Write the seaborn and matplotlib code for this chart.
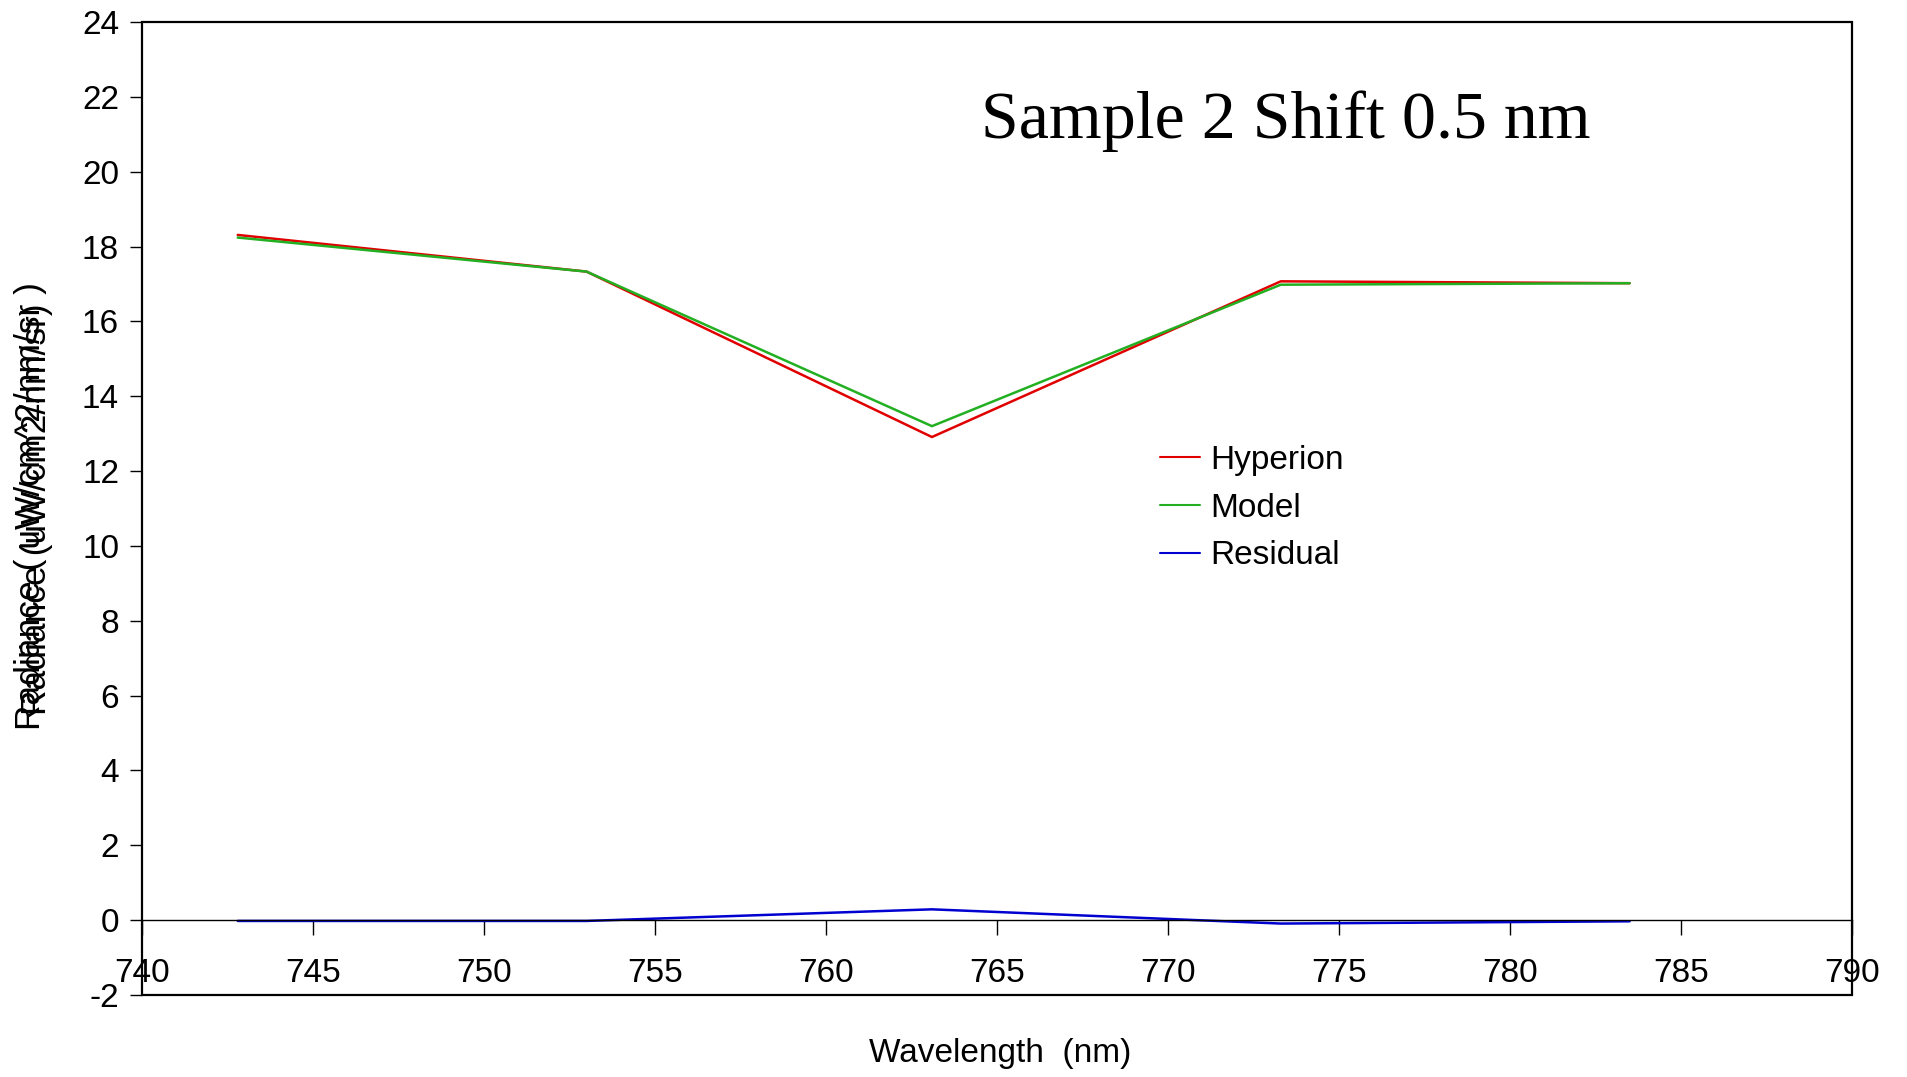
import numpy as np
import pandas as pd
import matplotlib
matplotlib.use("Agg")
import matplotlib.pyplot as plt
import seaborn as sns
from matplotlib.patches import Rectangle

# values
wavelength = [742.8, 753.0, 763.1, 773.3, 783.5]
hyperion = [18.31, 17.33, 12.91, 17.07, 17.02]
model = [18.24, 17.33, 13.20, 16.98, 17.02]
residual = [-0.02, -0.02, 0.29, -0.09, -0.03]

series_names = ["Hyperion", "Model", "Residual"]
series_colors = ["#e00000", "#22b022", "#0000d0"]

df = pd.DataFrame({
    "Wavelength": wavelength * 3,
    "Radiance": hyperion + model + residual,
    "Series": ["Hyperion"] * 5 + ["Model"] * 5 + ["Residual"] * 5,
})

sns.set_style("white")
plt.rcParams['font.family'] = ['Liberation Sans', 'DejaVu Sans']
plt.rcParams['axes.unicode_minus'] = False
plt.rcParams['text.color'] = 'black'
plt.rcParams['xtick.color'] = 'black'
plt.rcParams['ytick.color'] = 'black'

fig = plt.figure(figsize=(19.08, 10.77), dpi=100)
ax = fig.add_axes([0.0744, 0.0761, 0.8962, 0.9035])

sns.lineplot(data=df, x="Wavelength", y="Radiance", hue="Series",
             hue_order=series_names, palette=series_colors,
             linewidth=1.8, sort=False, ax=ax)

ax.set_xlim(740, 790)
ax.set_ylim(-2, 24)
ax.set_xticks(np.arange(740, 791, 5))
ax.set_yticks(np.arange(-2, 25, 2))

# x axis crosses at zero like the original
ax.spines['bottom'].set_position(('data', 0))
ax.spines['bottom'].set_linewidth(1.0)
ax.spines['bottom'].set_color('black')
for s in ['top', 'right', 'left']:
    ax.spines[s].set_visible(False)
ax.add_patch(Rectangle((0, 0), 1, 1, transform=ax.transAxes, fill=False,
                       edgecolor='black', linewidth=1.6, zorder=5, clip_on=False))

ax.tick_params(axis='x', direction='out', length=10.5, width=1,
               labelsize=24, pad=17, bottom=True)
ax.tick_params(axis='y', direction='out', length=8.5, width=1,
               labelsize=24, pad=8, left=True)

ax.set_xlabel("")
ax.set_ylabel("")
fig.text(0.524, 0.022, "Wavelength  (nm)", fontsize=24, ha='center', va='center')
# the source image shows two overlapping axis titles
fig.text(0.016, 0.530, "Radiance ( uW/cm^2/nm/sr )", fontsize=25.5, rotation=90,
         ha='center', va='center')
fig.text(0.019, 0.527, "Radiance (uW/cm2/nm/sr)", fontsize=25.5, rotation=90,
         ha='center', va='center')

ax.text(0.669, 0.898, "Sample 2 Shift 0.5 nm", transform=ax.transAxes,
        fontsize=49, family='Liberation Serif', ha='center', va='center')

leg = ax.legend(loc='upper left', bbox_to_anchor=(0.578, 0.596), frameon=False,
                fontsize=24, handlelength=1.2, handletextpad=0.3, labelspacing=0.5)
for line in leg.get_lines():
    line.set_linewidth(1.5)

plt.savefig("out.png", dpi=100)
